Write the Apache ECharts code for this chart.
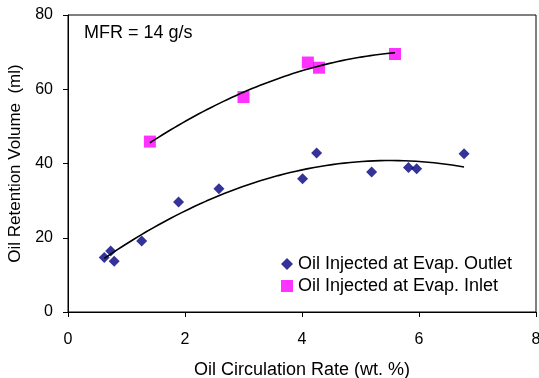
<!DOCTYPE html>
<html><head><meta charset="utf-8">
<script src="https://cdn.jsdelivr.net/npm/echarts@6/dist/echarts.min.js"></script>
<style>html,body{margin:0;padding:0;background:#fff}#c{width:539px;height:378px}</style>
</head><body><div id="c"></div>
<script>
var outletX = [0.62, 0.73, 0.79, 1.26, 1.89, 2.58, 4.01, 4.25, 5.19, 5.82, 5.96, 6.77];
var outletY = [14.7, 16.4, 13.7, 19.1, 29.6, 33.2, 35.9, 42.8, 37.7, 38.9, 38.6, 42.6];
var inletX = [1.40, 3.00, 4.10, 4.29, 5.59];
var inletY = [45.9, 57.9, 67.2, 65.8, 69.5];
var xTicks = [0, 2, 4, 6, 8];
var yTicks = [0, 20, 40, 60, 80];

function quadFit(xs, ys) {
  var n = xs.length, S = [0,0,0,0,0], T = [0,0,0];
  for (var i = 0; i < n; i++) {
    var x = xs[i], y = ys[i];
    for (var k = 0; k < 5; k++) S[k] += Math.pow(x, k);
    for (var k2 = 0; k2 < 3; k2++) T[k2] += y * Math.pow(x, k2);
  }
  var A = [[S[0],S[1],S[2],T[0]],[S[1],S[2],S[3],T[1]],[S[2],S[3],S[4],T[2]]];
  for (var c = 0; c < 3; c++) {
    var p = c;
    for (var r = c+1; r < 3; r++) if (Math.abs(A[r][c]) > Math.abs(A[p][c])) p = r;
    var t = A[c]; A[c] = A[p]; A[p] = t;
    for (var r2 = 0; r2 < 3; r2++) if (r2 !== c) {
      var f = A[r2][c] / A[c][c];
      for (var j = c; j < 4; j++) A[r2][j] -= f * A[c][j];
    }
  }
  return [A[0][3]/A[0][0], A[1][3]/A[1][1], A[2][3]/A[2][2]];
}
function trend(xs, ys) {
  var co = quadFit(xs, ys);
  var lo = Math.min.apply(null, xs), hi = Math.max.apply(null, xs), out = [];
  for (var i = 0; i <= 60; i++) {
    var x = lo + (hi - lo) * i / 60;
    out.push([x, co[0] + co[1]*x + co[2]*x*x]);
  }
  return out;
}
function pairs(xs, ys) { return xs.map(function (x, i) { return [x, ys[i]]; }); }

var font = 'Liberation Sans, Arial, sans-serif';
var chart = echarts.init(document.getElementById('c'), null, {renderer: 'canvas'});
chart.setOption({
  animation: false,
  backgroundColor: '#fff',
  grid: {left: 68, top: 15, right: 3, bottom: 66, show: true, borderColor: '#000', borderWidth: 1,
         containLabel: false, outerBoundsMode: 'none'},
  xAxis: {
    type: 'value', min: xTicks[0], max: xTicks[xTicks.length-1], interval: 2,
    name: 'Oil Circulation Rate (wt. %)', nameLocation: 'middle', nameGap: 49,
    nameTextStyle: {fontFamily: font, fontSize: 18, color: '#000'},
    axisLine: {show: true, lineStyle: {color: '#000', width: 1}},
    axisTick: {show: true, inside: false, length: 5, lineStyle: {color: '#000'}},
    axisLabel: {fontFamily: font, fontSize: 16, color: '#000', margin: 20, hideOverlap: false},
    splitLine: {show: false}
  },
  yAxis: {
    type: 'value', min: yTicks[0], max: yTicks[yTicks.length-1], interval: 20,
    name: 'Oil Retention Volume  (ml)', nameLocation: 'middle', nameGap: 41,
    nameTextStyle: {fontFamily: font, fontSize: 17, color: '#000'},
    axisLine: {show: true, lineStyle: {color: '#000', width: 1}},
    axisTick: {show: true, inside: false, length: 5, lineStyle: {color: '#000'}},
    axisLabel: {fontFamily: font, fontSize: 16, color: '#000', margin: 15},
    splitLine: {show: false}
  },
  legend: {
    left: 276, top: 250, orient: 'vertical', itemGap: 4, itemWidth: 12, itemHeight: 12,
    textStyle: {fontFamily: font, fontSize: 18, color: '#000'},
    data: [
      {name: 'Oil Injected at Evap. Outlet', icon: 'diamond'},
      {name: 'Oil Injected at Evap. Inlet', icon: 'rect'}
    ]
  },
  graphic: [{
    type: 'text', left: 84, top: 24,
    style: {text: 'MFR = 14 g/s', font: '18px ' + font, fill: '#000'}
  }],
  series: [
    {name: 'Oil Injected at Evap. Outlet', type: 'scatter', symbol: 'diamond', symbolSize: 11,
     itemStyle: {color: '#000080'}, data: pairs(outletX, outletY), z: 3},
    {name: 'Oil Injected at Evap. Inlet', type: 'scatter', symbol: 'rect', symbolSize: 12,
     itemStyle: {color: '#FF00FF'}, data: pairs(inletX, inletY), z: 3},
    {name: 'fitOut', type: 'line', data: trend(outletX, outletY), showSymbol: false, symbol: 'none',
     lineStyle: {color: '#000', width: 1.6}, z: 4, silent: true},
    {name: 'fitIn', type: 'line', data: trend(inletX, inletY), showSymbol: false, symbol: 'none',
     lineStyle: {color: '#000', width: 1.6}, z: 4, silent: true}
  ]
});
</script></body></html>
